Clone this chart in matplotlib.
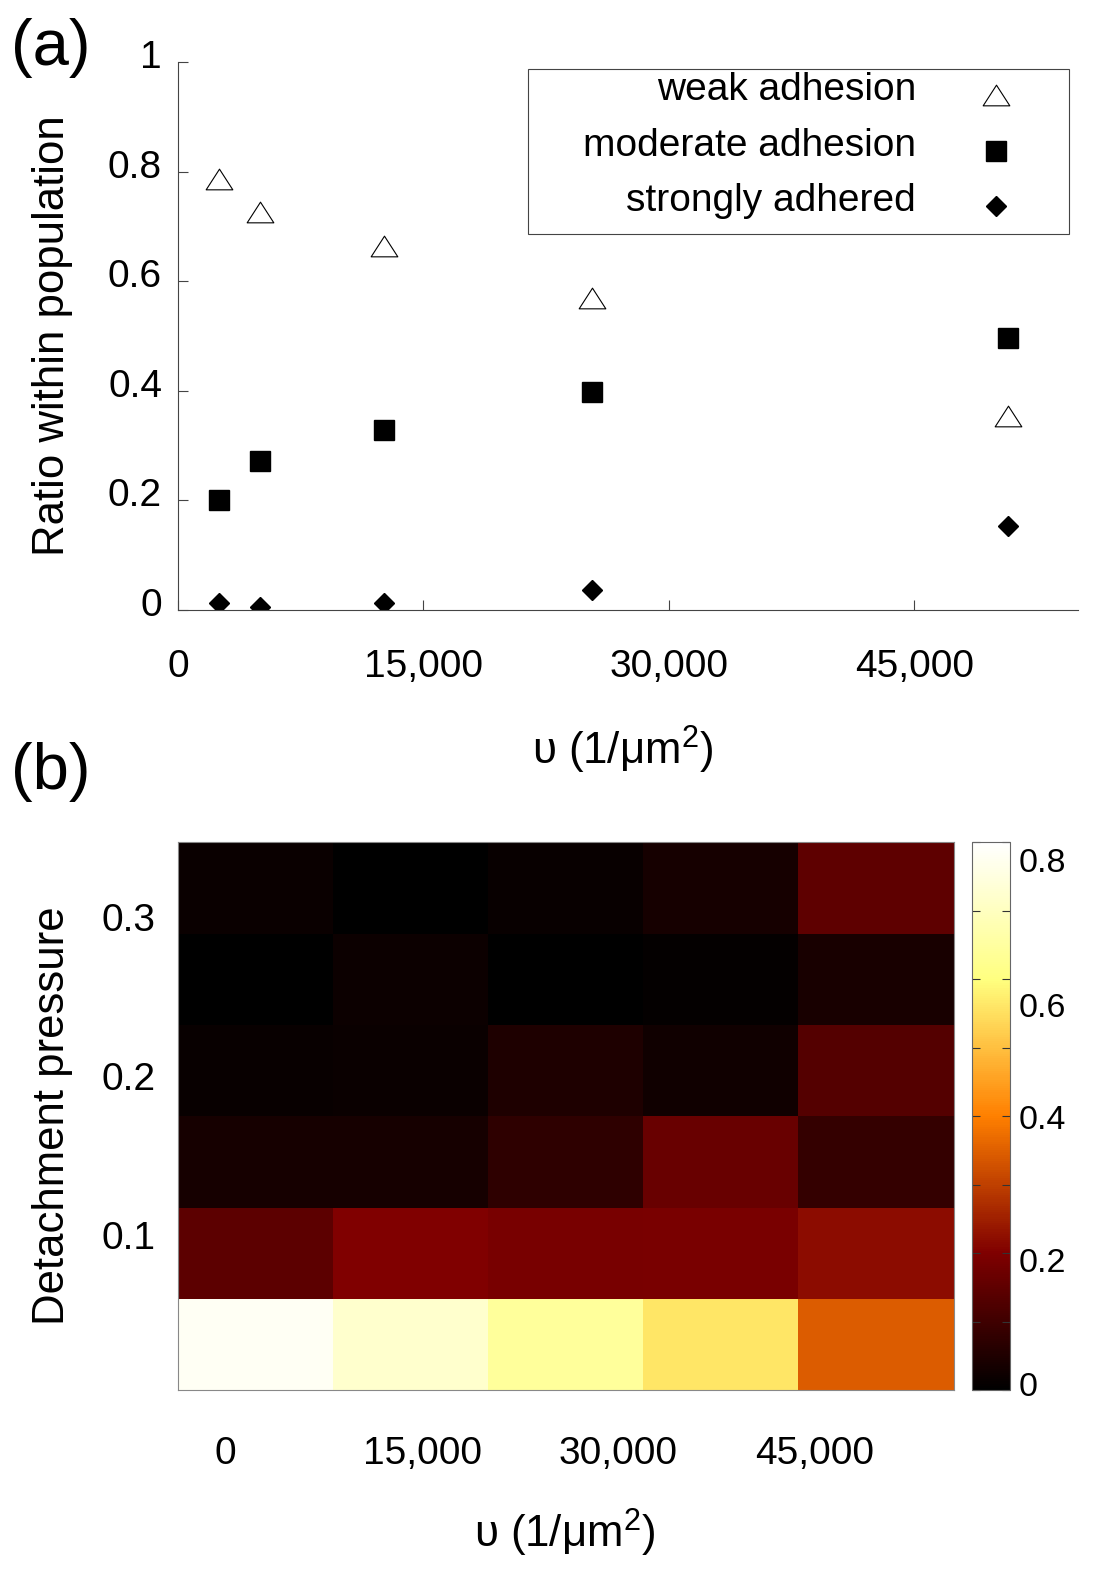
import numpy as np
import matplotlib.pyplot as plt
from matplotlib.patches import Rectangle
from matplotlib.path import Path
from matplotlib.ticker import MultipleLocator
from matplotlib.transforms import ScaledTranslation

plt.rcParams['font.family'] = ['Liberation Sans', 'DejaVu Sans']
plt.rcParams['mathtext.fontset'] = 'custom'
plt.rcParams['mathtext.rm'] = 'Liberation Sans'
plt.rcParams['mathtext.it'] = 'Liberation Sans:italic'
plt.rcParams['mathtext.default'] = 'regular'

## panel (a): fraction of each adhesion class vs receptor density
nu = [2500, 5000, 12600, 25300, 50700]
weak = [0.787, 0.727, 0.665, 0.570, 0.354]
moderate = [0.201, 0.272, 0.328, 0.398, 0.497]
strong = [0.013, 0.005, 0.012, 0.037, 0.154]
series_labels = ['weak adhesion', 'moderate adhesion', 'strongly adhered']

xticks_a = [0, 15000, 30000, 45000]
xtick_labels_a = ['0', '15,000', '30,000', '45,000']
yticks_a = [0, 0.2, 0.4, 0.6, 0.8, 1]
ytick_labels_a = ['0', '0.2', '0.4', '0.6', '0.8', '1']

## panel (b): weak adhesion ratio, rows from lowest to highest detachment pressure
heat_row0 = [0.784, 0.720, 0.643, 0.562, 0.345]
heat_row1 = [0.144, 0.201, 0.188, 0.191, 0.220]
heat_row2 = [0.035, 0.035, 0.075, 0.165, 0.082]
heat_row3 = [0.013, 0.016, 0.047, 0.028, 0.133]
heat_row4 = [0.000, 0.019, 0.000, 0.008, 0.039]
heat_row5 = [0.016, 0.000, 0.013, 0.035, 0.149]

xticks_b = [0, 15000, 30000, 45000]
xtick_labels_b = ['0', '15,000', '30,000', '45,000']
yticks_b = [0.1, 0.2, 0.3]
ytick_labels_b = ['0.1', '0.2', '0.3']
cbar_ticks = [0, 0.2, 0.4, 0.6, 0.8]
cbar_labels = ['0', '0.2', '0.4', '0.6', '0.8']

W, H = 1094, 1574
EDGE = '#444444'
XLABEL = 'υ (1/μm$^2$)'


def px_rect(l, t, r, b):
    ## pixel box -> figure fraction [left, bottom, width, height]
    return [l / W, 1 - b / H, (r - l) / W, (b - t) / H]


def shift_px(label, dx, dy):
    ## nudge a text by pixels (dy > 0 moves it down)
    off = ScaledTranslation(dx / 100, -dy / 100, fig.dpi_scale_trans)
    label.set_transform(label.get_transform() + off)


fig = plt.figure(figsize=(W / 100, H / 100), dpi=100)

######## PANEL (a) ########
ax_a = fig.add_axes(px_rect(178, 62, 1078, 610))
tri = Path([(-1, -0.775), (1, -0.775), (0, 0.775), (-1, -0.775)], closed=True)
ax_a.plot(nu, weak, linestyle='none', marker=tri, ms=19.2, mfc='white', mec='black', mew=0.8)
ax_a.plot(nu, moderate, linestyle='none', marker='s', ms=15.0, color='black')
ax_a.plot(nu, strong, linestyle='none', marker='D', ms=10.5, color='black')

ax_a.set_xlim(0, 55000)
ax_a.set_ylim(0, 1)
ax_a.set_xticks(xticks_a, xtick_labels_a)
ax_a.set_yticks(yticks_a, ytick_labels_a)
for s in ['top', 'right']:
    ax_a.spines[s].set_visible(False)
for s in ['left', 'bottom']:
    ax_a.spines[s].set_color(EDGE)
    ax_a.spines[s].set_linewidth(0.8)
ax_a.tick_params(direction='in', length=7, width=0.8, color=EDGE, labelsize=28)
ax_a.tick_params(axis='x', pad=28)
ax_a.tick_params(axis='y', pad=11.5)
for lab in ax_a.get_yticklabels():
    shift_px(lab, 0, -8)

ax_a.set_xlabel(XLABEL, fontsize=31.5, va='center')
ax_a.xaxis.set_label_coords((623 - 178) / 900, (610 - 750) / 548)
ax_a.set_ylabel('Ratio within population', fontsize=31.5, va='center')
ax_a.yaxis.set_label_coords((53 - 178) / 900, 0.5)

## gnuplot style key: right aligned text, marker on the right
def ax_frac(px, py):
    return (px - 178) / 900, (610 - py) / 548

x0, y0 = ax_frac(528, 234)
x1, y1 = ax_frac(1069, 69)
ax_a.add_patch(Rectangle((x0, y0), x1 - x0, y1 - y0, transform=ax_a.transAxes,
                         fill=False, edgecolor=EDGE, linewidth=0.8))
key_rows = [90, 146, 201]
key_styles = [dict(marker=tri, ms=19.2, mfc='white', mec='black', mew=0.8),
              dict(marker='s', ms=15.0, color='black'),
              dict(marker='D', ms=10.5, color='black')]
for label, row_y, style in zip(series_labels, key_rows, key_styles):
    tx, ty = ax_frac(916, row_y)
    ax_a.text(tx, ty, label, transform=ax_a.transAxes, ha='right', va='center', fontsize=28)
    mx, my = ax_frac(996, row_y + 5)
    ax_a.plot([mx], [my], transform=ax_a.transAxes, linestyle='none', clip_on=False, **style)

######## PANEL (b) ########
heat = np.array([heat_row0, heat_row1, heat_row2, heat_row3, heat_row4, heat_row5])
ax_b = fig.add_axes(px_rect(178, 842, 954, 1390))
im = ax_b.imshow(heat, cmap='afmhot', vmin=0, vmax=0.8, origin='lower', aspect='auto',
                 interpolation='nearest', extent=[-3632, 55623, 0, 0.345])
ax_b.set_xticks(xticks_b, xtick_labels_b)
ax_b.set_yticks(yticks_b, ytick_labels_b)
ax_b.tick_params(length=0, labelsize=28)
ax_b.tick_params(axis='x', pad=33)
ax_b.tick_params(axis='y', pad=16)
for lab in ax_b.get_yticklabels():
    shift_px(lab, 0, 4)
for s in ax_b.spines.values():
    s.set_color('#888888')
    s.set_linewidth(0.8)

ax_b.set_xlabel(XLABEL, fontsize=31.5, va='center')
ax_b.xaxis.set_label_coords((565 - 178) / 776, (1390 - 1533) / 548)
ax_b.set_ylabel('Detachment pressure', fontsize=31.5, va='center')
ax_b.yaxis.set_label_coords((53 - 178) / 776, 0.5)

cax = fig.add_axes(px_rect(972, 842, 1010, 1390))
cb = fig.colorbar(im, cax=cax, ticks=cbar_ticks)
cb.set_ticklabels(cbar_labels)
cb.outline.set_edgecolor('#666666')
cb.outline.set_linewidth(0.8)
cax.yaxis.set_minor_locator(MultipleLocator(0.1))
cax.tick_params(which='both', direction='in', left=True, right=True, length=6,
                width=0.8, color='#333333', labelsize=24.5, pad=6)
## gnuplot placed the colorbar labels a little off their ticks
for lab, dy in zip(cax.get_yticklabels(), [-6, 7, 1, 26, 18]):
    shift_px(lab, 0, dy)

fig.text(51 / W, 1 - 48 / H, '(a)', fontsize=47, ha='center', va='center')
fig.text(51 / W, 1 - 772 / H, '(b)', fontsize=47, ha='center', va='center')

fig.savefig('out.png', dpi=100)
